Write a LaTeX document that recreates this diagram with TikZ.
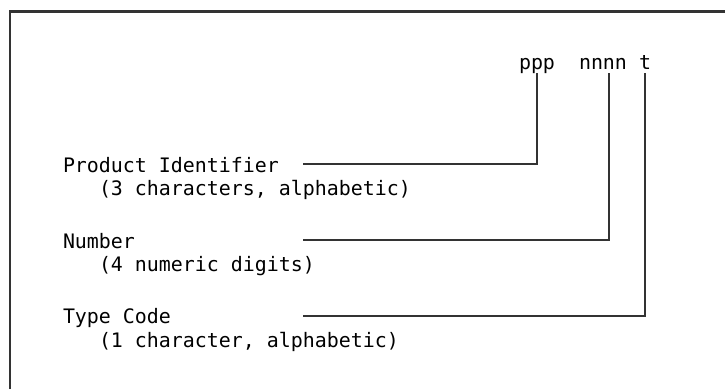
\documentclass[tikz,border=0pt]{standalone}
\usepackage{fontspec}
\setmonofont{DejaVu Sans Mono}
\begin{document}
\begin{tikzpicture}[x=1bp,y=-1bp,
  lbl/.style={anchor=base west,inner sep=0pt,outer sep=0pt,
    font=\ttfamily\fontsize{20}{24}\selectfont,text height=0.76em,text depth=0.24em},
  conn/.style={draw=black!80,line width=1.8bp},
  frame/.style={draw=black!80,line width=2.2bp}]
\useasboundingbox[fill=white] (0,0) rectangle (725,389);
% frame (cropped)
\coordinate (fbl) at (10,389);
\coordinate (ftl) at (10,11.5);
\coordinate (ftr) at (725,11.5);
\draw[frame] (fbl) -- (ftl) -- (ftr);
% field letters
\node[lbl] (ppp) at (519,69) {ppp};
\node[lbl] (nnnn) at (579,69) {nnnn};
\node[lbl] (t) at (639,69) {t};
% descriptions
\node[lbl] (pid) at (63,172) {Product Identifier};
\node[lbl] (pidd) at (99,195) {(3 characters, alphabetic)};
\node[lbl] (num) at (63,248) {Number};
\node[lbl] (numd) at (99,271) {(4 numeric digits)};
\node[lbl] (tc) at (63,323) {Type Code};
\node[lbl] (tcd) at (99,347) {(1 character, alphabetic)};
% connector starts
\coordinate (pidl) at (303,164);
\coordinate (numl) at (303,240);
\coordinate (tcl) at (303,316);
% connectors
\draw[conn] (pidl) -| ([yshift=-1.2bp]ppp.south);
\draw[conn] (numl) -| ([yshift=-1.2bp,xshift=6bp]nnnn.south);
\draw[conn] (tcl) -| ([yshift=-1.2bp]t.south);
\end{tikzpicture}
\end{document}
